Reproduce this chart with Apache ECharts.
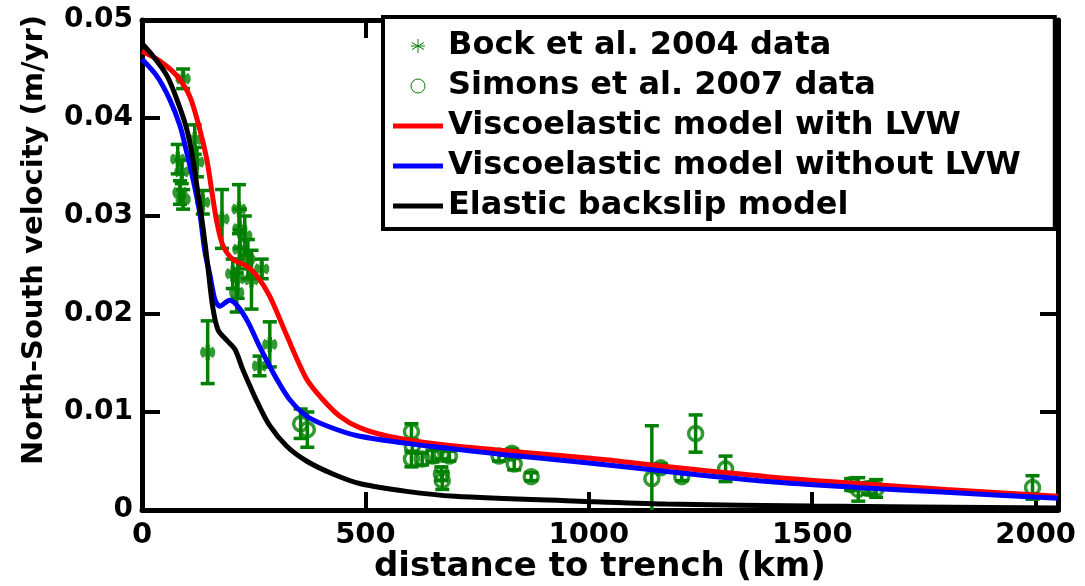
<!DOCTYPE html>
<html>
<head>
<meta charset="utf-8">
<script src="https://cdn.jsdelivr.net/npm/echarts@6/dist/echarts.min.js"></script>
<style>html,body{margin:0;padding:0;background:#fff;}#c{width:1085px;height:586px;}</style>
</head>
<body>
<div id="c"></div>
<script>
// ---- Data (distance km, velocity m/yr) ----
const bockX   = [92, 80, 89, 85, 92, 118, 123, 136, 179, 217, 219, 230, 219, 237, 268, 203, 214, 212, 245, 147, 286, 263];
const bockY   = [0.0440, 0.0358, 0.0345, 0.0324, 0.0317, 0.0378, 0.0355, 0.0314, 0.0297, 0.0307, 0.0287, 0.0280, 0.0266, 0.0256, 0.0246, 0.0241, 0.0236, 0.0222, 0.0235, 0.0161, 0.0169, 0.0147];
const bockErr = [0.0010, 0.0015, 0.0012, 0.0012, 0.0010, 0.0015, 0.0015, 0.0012, 0.0030, 0.0025, 0.0020, 0.0020, 0.0020, 0.0020, 0.0010, 0.0015, 0.0020, 0.0020, 0.0030, 0.0032, 0.0023, 0.0010];

const simX   = [355, 370, 603, 605, 603, 627, 650, 670, 688, 670, 672, 799, 828, 833, 871, 1141, 1161, 1208, 1239, 1306, 1587, 1603, 1625, 1643, 1993];
const simY   = [0.0088, 0.0082, 0.0080, 0.0065, 0.0052, 0.0052, 0.0055, 0.0057, 0.0055, 0.0037, 0.0030, 0.0055, 0.0058, 0.0047, 0.0034, 0.0032, 0.0043, 0.0034, 0.0078, 0.0042, 0.0026, 0.0021, 0.0022, 0.0022, 0.0023];
const simErr = [0.0015, 0.0018, 0.0008, 0.0006, 0.0008, 0.0006, 0.0006, 0.0005, 0.0005, 0.0007, 0.0009, 0.0005, 0.0004, 0.0006, 0.0004, 0.0054, 0.0004, 0.0004, 0.0019, 0.0013, 0.0006, 0.0012, 0.0006, 0.0009, 0.0012];

const lvwX = [0, 40, 78, 107, 129, 145, 156, 167, 181, 203, 234, 257, 286, 324, 368, 404, 442, 487, 554, 665, 800, 1000, 1200, 1400, 1600, 1800, 2050];
const lvwY = [0.0468, 0.0458, 0.0443, 0.0422, 0.0389, 0.0358, 0.0326, 0.0295, 0.0270, 0.0256, 0.0249, 0.0239, 0.0218, 0.0178, 0.0134, 0.0113, 0.0096, 0.0084, 0.0075, 0.0067, 0.0061, 0.0053, 0.0043, 0.0034, 0.0027, 0.0021, 0.0014];

const noLvwX = [0, 33, 62, 85, 100, 114, 129, 141, 152, 163, 174, 196, 214, 237, 263, 301, 330, 368, 413, 480, 592, 665, 800, 1000, 1200, 1400, 1600, 1800, 2050];
const noLvwY = [0.0460, 0.0443, 0.0419, 0.0392, 0.0365, 0.0338, 0.0304, 0.0263, 0.0240, 0.0215, 0.0208, 0.0214, 0.0208, 0.0192, 0.0167, 0.0134, 0.0113, 0.0096, 0.0086, 0.0076, 0.0068, 0.0064, 0.0057, 0.0048, 0.0038, 0.0029, 0.0023, 0.0018, 0.0012];

const elasticX = [0, 25, 56, 78, 100, 114, 125, 136, 147, 158, 170, 190, 208, 225, 245, 257, 286, 324, 368, 426, 487, 592, 700, 978, 1172, 1500, 2050];
const elasticY = [0.0476, 0.0463, 0.0443, 0.0419, 0.0389, 0.0358, 0.0324, 0.0290, 0.0250, 0.0208, 0.0184, 0.0173, 0.0164, 0.0144, 0.0123, 0.0111, 0.0086, 0.0065, 0.0050, 0.0037, 0.0027, 0.0019, 0.0014, 0.0009, 0.0006, 0.0004, 0.0002];

const xTicks = [0, 500, 1000, 1500, 2000];
const yTicks = [0, 0.01, 0.02, 0.03, 0.04, 0.05];

const names = ['Bock et al. 2004 data', 'Simons et al. 2007 data', 'Viscoelastic model with LVW', 'Viscoelastic model without LVW', 'Elastic backslip model'];
const xTitle = 'distance to trench (km)';
const yTitle = 'North-South velocity (m/yr)';
// ---------------------------------------------

const GREEN = '#008000';
const FONT = 'DejaVu Sans';
const zip2 = (a, b) => a.map((v, i) => [v, b[i]]);
const zip3 = (a, b, c) => a.map((v, i) => [v, b[i], c[i]]);

function errRender(params, api) {
  const x = api.value(0), y = api.value(1), e = api.value(2);
  const top = api.coord([x, y + e]);
  const bot = api.coord([x, Math.max(0, y - e)]);
  const cap = 7;
  const st = { stroke: GREEN, lineWidth: 3.5 };
  const ch = [
    { type: 'line', shape: { x1: top[0], y1: top[1], x2: bot[0], y2: bot[1] }, style: st },
    { type: 'line', shape: { x1: top[0] - cap, y1: top[1], x2: top[0] + cap, y2: top[1] }, style: st }
  ];
  if (y - e > 0) ch.push({ type: 'line', shape: { x1: bot[0] - cap, y1: bot[1], x2: bot[0] + cap, y2: bot[1] }, style: st });
  return { type: 'group', children: ch };
}

const asterisk = 'path://M0,-10L0,10M-8.66,-5L8.66,5M-8.66,5L8.66,-5M-10,0L10,0';
const lineIcon = 'path://M0,0L48,0L48,5L0,5Z';

const chart = echarts.init(document.getElementById('c'), null, { renderer: 'canvas' });
const axisLineStyle = { color: '#000', width: 5 };
const tickStyle = { show: true, inside: true, length: 18, lineStyle: { color: '#000', width: 4 } };
chart.setOption({
  animation: false,
  backgroundColor: '#fff',
  grid: { left: 142, right: 27, top: 20, bottom: 76, containLabel: false },
  graphic: [
    { type: 'text', left: 374, top: 550, style: { text: xTitle, font: 'bold 34px "DejaVu Sans"', fill: '#000' } },
    { type: 'text', x: 34, y: 240, rotation: Math.PI / 2,
      style: { text: yTitle, font: 'bold 29px "DejaVu Sans"', fill: '#000', align: 'center', verticalAlign: 'middle' } }
  ],
  xAxis: [
    {
      type: 'value', min: 0, max: 2050, interval: 500, position: 'bottom',
      axisLine: { show: true, onZero: false, lineStyle: axisLineStyle },
      axisTick: tickStyle,
      axisLabel: { fontFamily: FONT, fontWeight: 'bold', fontSize: 29, color: '#000', margin: 11,
        formatter: v => xTicks.includes(v) ? String(v) : '', showMaxLabel: false },
      splitLine: { show: false }
    },
    {
      type: 'value', min: 0, max: 2050, interval: 500, position: 'top',
      axisLine: { show: true, onZero: false, lineStyle: axisLineStyle },
      axisTick: tickStyle, axisLabel: { show: false }, splitLine: { show: false }
    }
  ],
  yAxis: [
    {
      type: 'value', min: 0, max: 0.05, interval: 0.01, position: 'left',
      axisLine: { show: true, onZero: false, lineStyle: axisLineStyle },
      axisTick: tickStyle,
      axisLabel: { fontFamily: FONT, fontWeight: 'bold', fontSize: 28, color: '#000', margin: 9,
        formatter: v => { const t = yTicks.find(k => Math.abs(k - v) < 1e-9); return t === undefined ? '' : (t === 0 ? '0' : t.toFixed(2)); } },
      splitLine: { show: false }
    },
    {
      type: 'value', min: 0, max: 0.05, interval: 0.01, position: 'right',
      axisLine: { show: true, onZero: false, lineStyle: axisLineStyle },
      axisTick: tickStyle, axisLabel: { show: false }, splitLine: { show: false }
    }
  ],
  legend: {
    orient: 'vertical', left: 383, top: 17,
    padding: [13, 34, 7, 10], itemGap: 8, itemWidth: 50, itemHeight: 14,
    backgroundColor: '#fff', borderColor: '#000', borderWidth: 4,
    textStyle: { fontFamily: FONT, fontWeight: 'bold', fontSize: 32, color: '#000', lineHeight: 31 },
    z: 10,
    data: [
      { name: names[0], icon: asterisk, itemStyle: { color: 'transparent', borderColor: GREEN, borderWidth: 1 } },
      { name: names[1], icon: 'circle', itemStyle: { color: 'transparent', borderColor: GREEN, borderWidth: 1 } },
      { name: names[2], icon: lineIcon, itemStyle: { color: '#ff0000' } },
      { name: names[3], icon: lineIcon, itemStyle: { color: '#0000ff' } },
      { name: names[4], icon: lineIcon, itemStyle: { color: '#000000' } }
    ]
  },
  series: [
    { type: 'custom', name: names[0], renderItem: errRender, data: zip3(bockX, bockY, bockErr), clip: true, z: 2, encode: { x: 0, y: 1 } },
    { type: 'custom', name: names[1], renderItem: errRender, data: zip3(simX, simY, simErr), clip: true, z: 2, encode: { x: 0, y: 1 } },
    { type: 'scatter', name: names[0], data: zip2(bockX, bockY), symbol: asterisk, symbolSize: 15,
      itemStyle: { color: 'transparent', borderColor: GREEN, borderWidth: 4.5 }, z: 3 },
    { type: 'scatter', name: names[1], data: zip2(simX, simY), symbol: 'circle', symbolSize: 14,
      itemStyle: { color: 'transparent', borderColor: GREEN, borderWidth: 3.5 }, z: 3 },
    { type: 'line', name: names[2], data: zip2(lvwX, lvwY), symbol: 'none', smooth: 0.3,
      lineStyle: { color: '#ff0000', width: 5 }, itemStyle: { color: '#ff0000' }, z: 4 },
    { type: 'line', name: names[3], data: zip2(noLvwX, noLvwY), symbol: 'none', smooth: 0.3,
      lineStyle: { color: '#0000ff', width: 5 }, itemStyle: { color: '#0000ff' }, z: 5 },
    { type: 'line', name: names[4], data: zip2(elasticX, elasticY), symbol: 'none', smooth: 0.3,
      lineStyle: { color: '#000000', width: 5 }, itemStyle: { color: '#000000' }, z: 6 }
  ]
});
</script>
</body>
</html>
